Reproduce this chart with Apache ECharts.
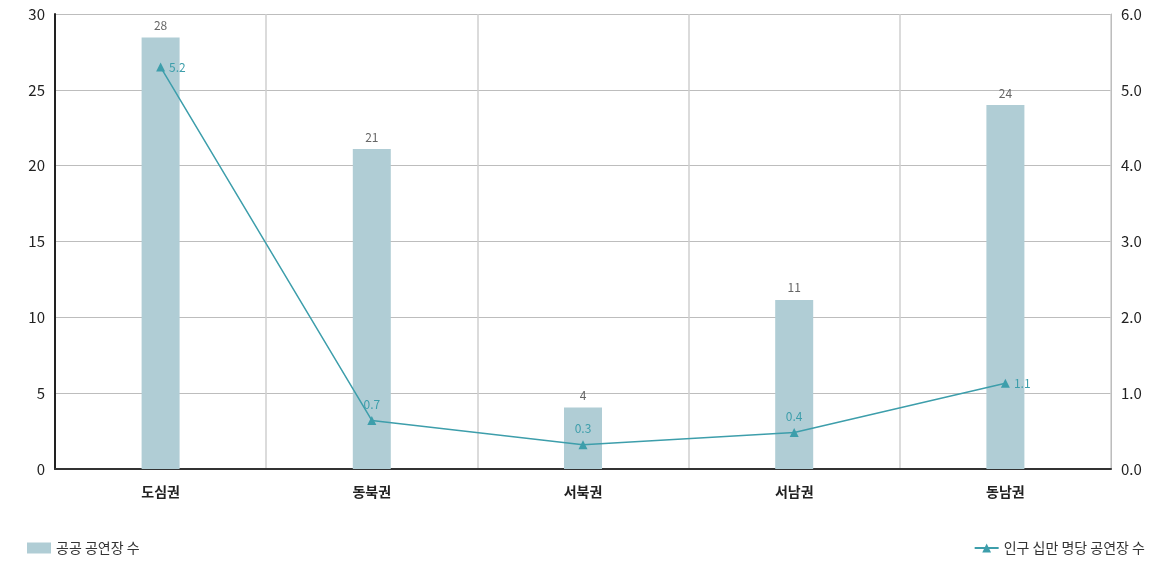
<!DOCTYPE html>
<html><head><meta charset="utf-8">
<script src="https://cdn.jsdelivr.net/npm/echarts@6/dist/echarts.min.js"></script>
<style>html,body{margin:0;padding:0;background:#fff}#c{width:1152px;height:562px}</style>
</head><body><div id="c"></div>
<script>
const categories = ['도심권','동북권','서북권','서남권','동남권'];
const venues = [28.45, 21.1, 4.05, 11.15, 24.0];
const venueLabels = ['28','21','4','11','24'];
const perPop = [5.3, 0.64, 0.32, 0.48, 1.13];
const perPopLabels = ['5.2','0.7','0.3','0.4','1.1'];
const leftTicks = [0,5,10,15,20,25,30];
const rightTicks = [0,1,2,3,4,5,6];

const font = '"Noto Sans CJK KR","Noto Sans",sans-serif';
const barColor = '#b0cdd5';
const lineColor = '#3d9eab';
const chart = echarts.init(document.getElementById('c'));
chart.setOption({
  animation:false,
  textStyle:{fontFamily:font},
  grid:{left:55,right:41,top:14,bottom:93,containLabel:false},
  legend:[
    {data:[{name:'공공 공연장 수',icon:'rect'}],left:22,bottom:2,itemWidth:24,itemHeight:11,itemGap:8,
     textStyle:{fontFamily:font,fontSize:14,color:'#333'}},
    {data:['인구 십만 명당 공연장 수'],right:2,bottom:2,itemWidth:24,itemHeight:11,
     textStyle:{fontFamily:font,fontSize:14,color:'#333'}}
  ],
  xAxis:{type:'category',data:categories,
    axisLine:{lineStyle:{color:'#333',width:2}},axisTick:{show:false},
    splitLine:{show:true,lineStyle:{color:'#cfcfcf',width:1.5}},
    axisLabel:{fontFamily:font,fontSize:14,fontWeight:'bold',color:'#222',margin:16}},
  yAxis:[
    {type:'value',min:0,max:30,interval:5,
     axisLine:{show:true,lineStyle:{color:'#222',width:2}},axisTick:{show:false},
     splitLine:{lineStyle:{color:'#bdbdbd'}},
     axisLabel:{fontFamily:font,fontSize:15,color:'#222',margin:10,
       formatter:v=>leftTicks.includes(v)?String(v):''}},
    {type:'value',min:0,max:6,interval:1,
     axisLine:{show:true,lineStyle:{color:'#bdbdbd',width:1}},axisTick:{show:false},
     splitLine:{show:false},
     axisLabel:{fontFamily:font,fontSize:15,color:'#222',margin:10,
       formatter:v=>rightTicks.includes(v)?v.toFixed(1):''}}
  ],
  series:[
    {name:'공공 공연장 수',type:'bar',data:venues,barWidth:38,
     itemStyle:{color:barColor},
     label:{show:true,position:'top',distance:6,color:'#666',fontSize:12,fontFamily:font,
       formatter:p=>venueLabels[p.dataIndex]}},
    {name:'인구 십만 명당 공연장 수',type:'line',yAxisIndex:1,
     symbol:'triangle',symbolSize:9,
     lineStyle:{color:lineColor,width:1.5},itemStyle:{color:lineColor},
     label:{show:true,color:lineColor,fontSize:12,fontFamily:font,
       formatter:p=>perPopLabels[p.dataIndex]},
     data:perPop.map((v,i)=>({value:v,label:{position:(i===0||i===4)?'right':'top',distance:(i===0||i===4)?4:6}}))}
  ]
});
</script></body></html>
